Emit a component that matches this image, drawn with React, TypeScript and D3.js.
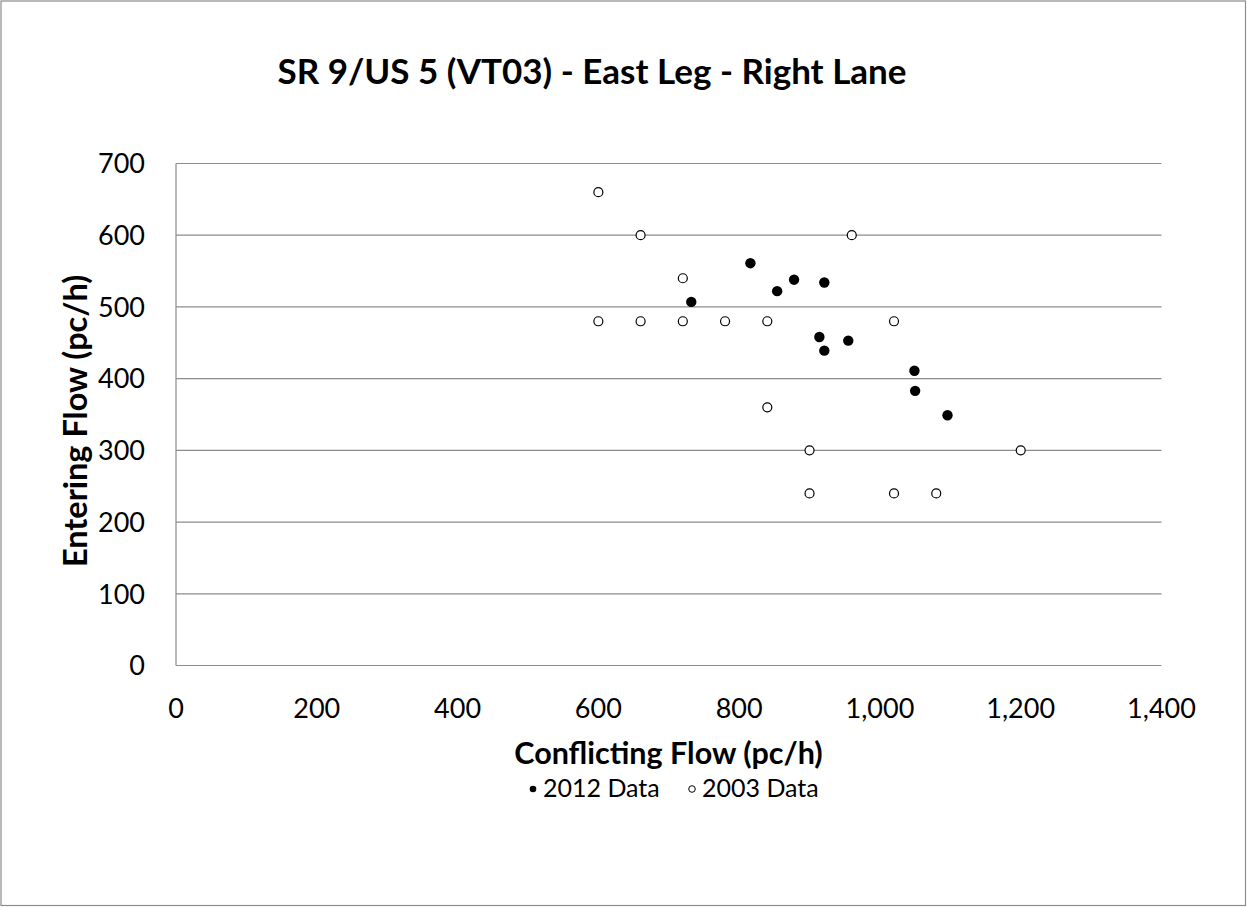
import React from "react";
import * as d3 from "d3";

const title = "SR 9/US 5 (VT03) - East Leg - Right Lane";
const xTitle = "Conflicting Flow (pc/h)";
const yTitle = "Entering Flow (pc/h)";
const xTicks = [0, 200, 400, 600, 800, 1000, 1200, 1400];
const yTicks = [0, 100, 200, 300, 400, 500, 600, 700];
const legendLabels = ["2012 Data", "2003 Data"];

const data2012x = [816, 732, 854, 878, 921, 914, 921, 955, 1049, 1050, 1096];
const data2012y = [561, 507, 522, 538, 534, 458, 439, 453, 411, 383, 349];

const data2003x = [600, 660, 720, 600, 660, 720, 780, 840, 960, 1020, 840, 900, 900, 1020, 1080, 1200];
const data2003y = [660, 600, 540, 480, 480, 480, 480, 480, 600, 480, 360, 300, 240, 240, 240, 300];

const W = 1247;
const H = 907;
const FONT = "Lato, 'Open Sans', sans-serif";

export default function App() {
  const x = d3.scaleLinear().domain([0, 1400]).range([176, 1161.5]);
  const y = d3.scaleLinear().domain([0, 700]).range([665.5, 163.5]);
  const fmt = d3.format(",");

  return (
    <svg
      width={W}
      height={H}
      style={{ position: "absolute", left: 0, top: 0, background: "#fff" }}
      fontFamily={FONT}
    >
      <rect x={1} y={1} width={W - 2.5} height={H - 2.5} fill="#fff" stroke="#8c8c8c" strokeWidth={1.2} />
      <text x={592} y={84} textAnchor="middle" fontSize={35} fontWeight="bold" fill="#000">
        {title}
      </text>
      {yTicks.map((t) => (
        <line key={"g" + t} x1={x(0)} x2={x(1400)} y1={y(t)} y2={y(t)} stroke="#8c8c8c" strokeWidth={1.2} />
      ))}
      <line x1={x(0)} x2={x(0)} y1={y(0)} y2={y(700)} stroke="#8c8c8c" strokeWidth={1.2} />
      {yTicks.map((t) => (
        <text key={"yt" + t} x={145} y={y(t)} dy="0.36em" textAnchor="end" fontSize={27} fill="#000">
          {fmt(t)}
        </text>
      ))}
      {xTicks.map((t) => (
        <text key={"xt" + t} x={x(t)} y={718} textAnchor="middle" fontSize={27} fill="#000">
          {fmt(t)}
        </text>
      ))}
      <text x={668.5} y={764} textAnchor="middle" fontSize={30.5} fontWeight="bold" fill="#000">
        {xTitle}
      </text>
      <text
        transform={`translate(87,421) rotate(-90)`}
        textAnchor="middle"
        fontSize={32.5}
        fontWeight="bold"
        fill="#000"
      >
        {yTitle}
      </text>
      {data2003x.map((v, i) => (
        <circle key={"o" + i} cx={x(v)} cy={y(data2003y[i])} r={4.5} fill="#fff" stroke="#000" strokeWidth={1.2} />
      ))}
      {data2012x.map((v, i) => (
        <circle key={"f" + i} cx={x(v)} cy={y(data2012y[i])} r={5.2} fill="#000" />
      ))}
      <g>
        <circle cx={533} cy={789} r={3.3} fill="#000" />
        <text x={543} y={797} fontSize={25} fill="#000">{legendLabels[0]}</text>
        <circle cx={692} cy={789} r={3.3} fill="#fff" stroke="#000" strokeWidth={1} />
        <text x={702} y={797} fontSize={25} fill="#000">{legendLabels[1]}</text>
      </g>
    </svg>
  );
}
